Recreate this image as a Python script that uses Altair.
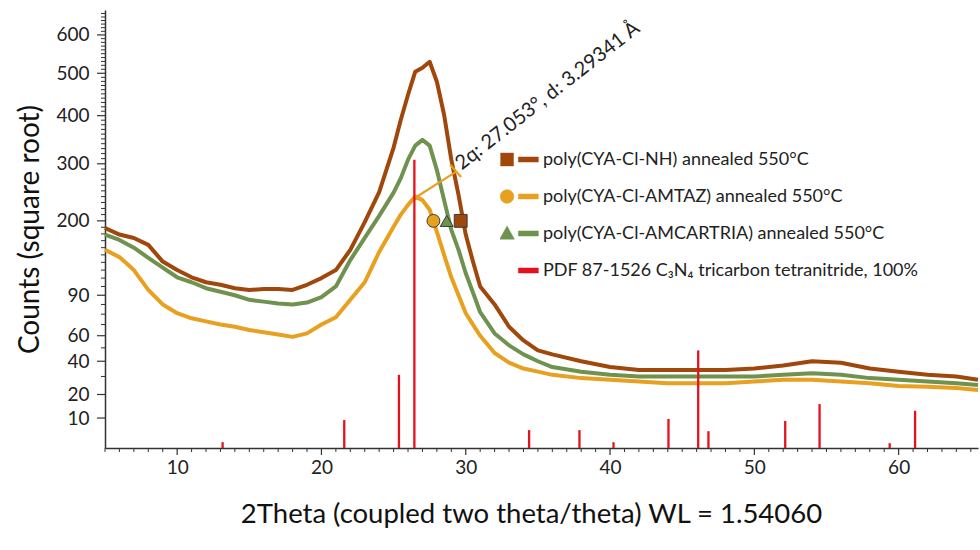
import altair as alt
import pandas as pd

# ---------------- data ----------------
two_theta = [5, 6, 7, 8, 9, 10, 11, 12, 13, 14, 15, 16, 17, 18, 19, 20, 21, 22, 23, 24,
             25, 25.5, 26, 26.5, 27, 27.5, 28, 28.5, 29, 29.5, 30, 30.5,
             31, 32, 33, 34, 35, 36,
             38, 40, 42, 44, 46, 48, 50, 52, 54, 56, 58, 60, 62, 64, 65.5]

counts_nh = [189, 179, 174, 164, 141, 130, 121, 115, 112, 108, 106, 107, 107, 106, 112, 120, 130, 157, 198, 248,
             332, 391, 448, 504, 514, 529, 479, 402, 308, 243, 179, 141,
             110, 90, 68, 56, 48, 45,
             40, 36, 34, 34, 34, 34, 35, 37, 40, 39, 35, 33, 31, 30, 28]

counts_amtaz = [157, 147, 130, 106, 90, 81, 76, 73, 70, 68, 65, 63, 61, 59, 62, 70, 77, 95, 115, 154,
                191, 210, 226, 240, 234, 218, 183, 150, 121, 100, 81, 70,
                60, 46, 39, 35, 33, 31,
                29, 28, 27, 26, 26, 26, 27, 28, 28, 27, 26, 24.5, 24, 23.4, 22.3]

counts_amcartria = [179, 171, 160, 146, 133, 121, 115, 108, 104, 100, 95, 93, 91, 90, 92, 98, 110, 143, 174, 208,
                    247, 273, 308, 336, 348, 336, 288, 234, 186, 157, 126, 103,
                    82, 62, 52, 45, 40, 36,
                    33, 31, 30, 30, 30, 30, 30, 31, 32, 31, 29, 28, 27, 26, 25]

series_names = ["poly(CYA-Cl-NH) annealed 550°C",
                "poly(CYA-Cl-AMTAZ) annealed 550°C",
                "poly(CYA-Cl-AMCARTRIA) annealed 550°C",
                "PDF 87-1526 C₃N₄ tricarbon tetranitride, 100%"]
series_colors = ["#A0470C", "#E8A020", "#6F924F", "#E3121E"]

pdf_two_theta = [13.15, 21.58, 25.37, 26.44, 34.39, 37.88, 40.24, 44.05, 46.11, 46.82, 52.14, 54.52, 59.38, 61.14]
pdf_counts = [3.3, 9.3, 31, 308, 6.2, 6.2, 3.3, 9.7, 48, 5.9, 9.0, 15.5, 3.1, 12.7]

marker_two_theta = [29.65, 27.76, 28.68]
marker_counts = [200, 200, 200]
marker_shapes = ["square", "circle", "triangle-up"]

# legend symbols: marker followed by a short line segment (unit-square SVG paths)
legend_symbols = [
    "M-1,-0.34L-0.32,-0.34L-0.32,0.34L-1,0.34Z M-0.06,-0.133L1,-0.133L1,0.133L-0.06,0.133Z",
    "M-1.02,0A0.36,0.36,0,1,0,-0.3,0A0.36,0.36,0,1,0,-1.02,0Z M-0.06,-0.133L1,-0.133L1,0.133L-0.06,0.133Z",
    "M-0.66,-0.4L-0.27,0.3L-1.05,0.3Z M-0.06,-0.133L1,-0.133L1,0.133L-0.06,0.133Z",
    "M-0.06,-0.133L1,-0.133L1,0.133L-0.06,0.133Z",
]

annot_two_theta = [26.55, 29.34]
annot_counts = [239, 285]
cap_two_theta = [28.92, 29.68]
cap_counts = [298, 275]
annot_text = "2q: 27.053°, d: 3.29341 Å"
annot_text_two_theta = [29.73]
annot_text_counts = [287]

x_domain = [5, 65.5]
y_domain = [2.23, 670]
x_minor_ticks = list(range(5, 66))
x_major_ticks = [10, 20, 30, 40, 50, 60]
y_minor_ticks = list(range(10, 661, 10))
y_major_ticks = [10, 20, 40, 60, 100, 200, 300, 400, 500, 600]
y_major_labels = ["10", "20", "40", "60", "90", "200", "300", "400", "500", "600"]

FONT = "Lato"
X_TITLE = "2Theta (coupled two theta/theta) WL = 1.54060"
Y_TITLE = "Counts (square root)"
PLOT_W, PLOT_H = 873, 438
TICK_COLOR = "#333"

# ---------------- tables ----------------
n = len(two_theta)
df = pd.DataFrame({
    "two_theta": two_theta * 3,
    "counts": counts_nh + counts_amtaz + counts_amcartria,
    "series": [series_names[0]] * n + [series_names[1]] * n + [series_names[2]] * n,
})
df_pdf = pd.DataFrame({"two_theta": pdf_two_theta, "counts": pdf_counts,
                       "series": [series_names[3]] * len(pdf_two_theta)})
df_mark = pd.DataFrame({"two_theta": marker_two_theta, "counts": marker_counts,
                        "series": series_names[:3]})
df_ann = pd.DataFrame({"two_theta": annot_two_theta + cap_two_theta,
                       "counts": annot_counts + cap_counts,
                       "part": ["line", "line", "cap", "cap"]})
df_txt = pd.DataFrame({"two_theta": annot_text_two_theta, "counts": annot_text_counts,
                       "label": [annot_text]})
df_xmaj = pd.DataFrame({"two_theta": x_major_ticks})
df_xmin = pd.DataFrame({"two_theta": [v for v in x_minor_ticks if v not in x_major_ticks]})
df_ymaj = pd.DataFrame({"counts": y_major_ticks})
df_ymin = pd.DataFrame({"counts": [v for v in y_minor_ticks if v not in y_major_ticks]})

# ---------------- scales & axes ----------------
x_scale = alt.Scale(domain=x_domain)
y_scale = alt.Scale(type="sqrt", domain=y_domain)
y_label_expr = " : ".join(f"datum.value == {v} ? '{l}'" for v, l in zip(y_major_ticks, y_major_labels)) + " : ''"

x_axis_major = alt.Axis(values=x_major_ticks, orient="bottom", ticks=False,
                        labelOverlap=False, labelFlush=False, grid=False, labelPadding=10,
                        labelFontSize=19, titleFontSize=27.5, titlePadding=23,
                        titleFontWeight="normal", titleX=426)
y_axis_major = alt.Axis(values=y_major_ticks, orient="left", labelExpr=y_label_expr, ticks=False,
                        labelOverlap=False, labelFlush=False, grid=False, labelPadding=16,
                        labelFontSize=19, titleFontSize=28, titlePadding=11,
                        titleFontWeight="normal")

x_main = alt.X("two_theta:Q", scale=x_scale, axis=x_axis_major, title=X_TITLE)
y_main = alt.Y("counts:Q", scale=y_scale, axis=y_axis_major, title=Y_TITLE)
x_plain = alt.X("two_theta:Q", scale=x_scale, axis=None)
y_plain = alt.Y("counts:Q", scale=y_scale, axis=None)

legend_def = alt.Legend(
    title=None, orient="none", legendX=395, legendY=131, padding=0,
    symbolSize=1421, symbolStrokeWidth=0.5, symbolOpacity=1,
    labelFontSize=18, labelFont=FONT, labelColor="#222", labelOffset=4, labelLimit=600,
    rowPadding=0, clipHeight=37)

color_enc = alt.Color("series:N", scale=alt.Scale(domain=series_names, range=series_colors),
                      legend=legend_def)

# ---------------- layers ----------------
legend_layer = alt.Chart(df_pdf).transform_filter("false").mark_point(
    filled=True, opacity=1).encode(
    x=x_plain, y=y_plain, color=color_enc,
    shape=alt.Shape("series:N", scale=alt.Scale(domain=series_names, range=legend_symbols),
                    legend=legend_def))

# axis tick marks (major and minor), placed through the scales
xmaj_layer = alt.Chart(df_xmaj).mark_rule(color=TICK_COLOR, strokeWidth=1.2).encode(
    x=x_plain, y=alt.value(PLOT_H), y2=alt.value(PLOT_H + 7))
xmin_layer = alt.Chart(df_xmin).mark_rule(color=TICK_COLOR, strokeWidth=1).encode(
    x=x_plain, y=alt.value(PLOT_H), y2=alt.value(PLOT_H + 4))
ymaj_layer = alt.Chart(df_ymaj).mark_rule(color=TICK_COLOR, strokeWidth=1.2).encode(
    y=y_plain, x=alt.value(0), x2=alt.value(-8))
ymin_layer = alt.Chart(df_ymin).mark_rule(color=TICK_COLOR, strokeWidth=1).encode(
    y=y_plain, x=alt.value(0), x2=alt.value(-4))

line_layers = [
    alt.Chart(df).transform_filter(alt.datum.series == name)
    .mark_line(strokeWidth=4, strokeJoin="round")
    .encode(x=x_main if i == 0 else x_plain, y=y_main if i == 0 else y_plain, color=color_enc)
    for i, name in enumerate(series_names[:3])
]

pdf_layer = alt.Chart(df_pdf).mark_rule(strokeWidth=2.3).encode(
    x=x_plain, y=y_plain, y2=alt.Y2Datum(y_domain[0]), color=color_enc)

marker_layers = [
    alt.Chart(df_mark).transform_filter(alt.datum.series == name)
    .mark_point(filled=True, size=165, shape=shp, stroke="#3a3a3a", strokeWidth=1, opacity=1)
    .encode(x=x_plain, y=y_plain, color=color_enc)
    for name, shp in zip(series_names[:3], marker_shapes)
]

ann_layer = alt.Chart(df_ann).mark_line(color="#E8A020", strokeWidth=2.2).encode(
    x=x_plain, y=y_plain, detail="part:N")

txt_layer = alt.Chart(df_txt).mark_text(angle=322, align="left", baseline="alphabetic",
                                        fontSize=20, font=FONT, color="#222").encode(
    x=x_plain, y=y_plain, text="label:N")

chart = alt.layer(*line_layers, legend_layer, xmaj_layer, xmin_layer, ymaj_layer, ymin_layer,
                  pdf_layer, *marker_layers, ann_layer, txt_layer
).resolve_axis(x="independent", y="independent").properties(
    width=PLOT_W, height=PLOT_H, autosize="none",
    padding={"left": 105, "top": 10, "right": 2, "bottom": 102},
    background="white",
).configure_view(strokeWidth=0).configure_axis(
    domainColor="#333", domainWidth=1.5,
    labelColor="#222", titleColor="#111", labelFont=FONT, titleFont=FONT,
).configure_text(font=FONT)

chart.save("out.html", embed_options={"renderer": "svg", "actions": False})
